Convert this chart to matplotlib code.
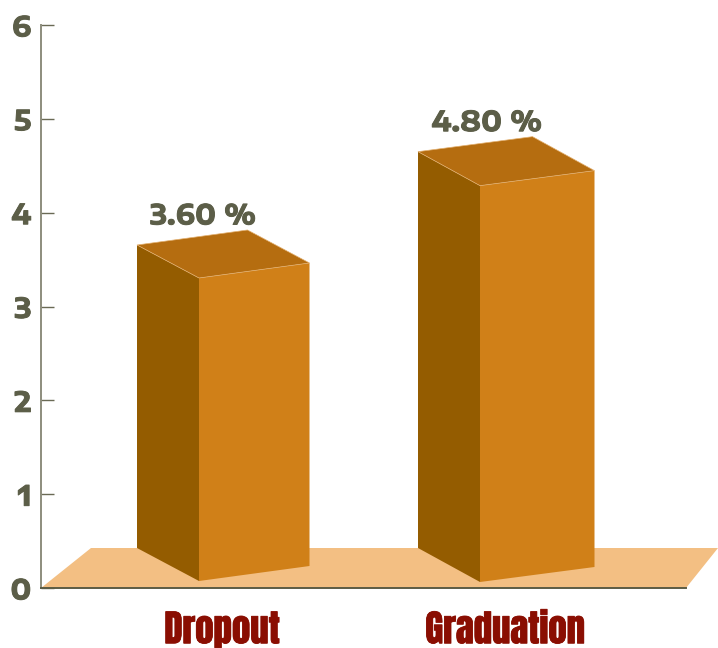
import matplotlib
matplotlib.use("Agg")
import matplotlib.pyplot as plt
import matplotlib.patheffects as pe
from matplotlib.patches import Polygon

categories = ["Dropout", "Graduation"]
values = [3.60, 4.80]
y_ticks = [0, 1, 2, 3, 4, 5, 6]

W, H = 718, 648
# axes box in pixels
LEFT, RIGHT, TOP, BOTTOM = 41, 686, 25, 588
CAT_GAP = 283  # px between the two categories
PX = 1 / CAT_GAP
PY = 6 / (BOTTOM - TOP)

# per bar look: back-left x from centre, front width, height per unit value, base y
shapes = [
    {"x0": -85, "front": 110.5, "k": 0.897, "drop": 33, "lab": 66},
    {"x0": -87, "front": 114.5, "k": 0.880, "drop": 34, "lab": 69},
]
DEPTH_X = 62
SKEW_Y = 15
FLOOR_Y = 40 * PY

SIDE = "#945c00"
FRONT = "#d08018"
ROOF = "#b56d10"
FLOOR = "#f3bf83"
TEXT = "#5c5e48"
LABEL = "#8a0e02"
WIDE = ["Encode Sans Expanded", "DejaVu Sans"]
TALL = ["Anton", "Liberation Sans Narrow", "DejaVu Sans"]

heavy = [pe.withStroke(linewidth=0.7, foreground=TEXT)]

fig = plt.figure(figsize=(W / 100, H / 100), dpi=100)
ax = fig.add_axes([LEFT / W, 1 - BOTTOM / H, (RIGHT - LEFT) / W, (BOTTOM - TOP) / H])
ax.set_xlim((LEFT - 222) * PX, (RIGHT - 222) * PX)
ax.set_ylim(0, 6)

for s in ["top", "right"]:
    ax.spines[s].set_visible(False)
ax.spines["left"].set_color("#8d8d7d")
ax.spines["left"].set_linewidth(1.4)
ax.spines["bottom"].set_color("#5c5c44")
ax.spines["bottom"].set_linewidth(1.4)

ax.set_yticks(y_ticks)
ax.tick_params(axis="y", direction="in", length=9.5, width=1, color="#6a6a55", pad=7)
for t in ax.get_yticklabels():
    t.set_fontfamily(WIDE)
    t.set_fontweight("bold")
    t.set_fontsize(20)
    t.set_color(TEXT)
    t.set_path_effects(heavy)

ax.set_xticks(range(len(categories)))
ax.set_xticklabels(categories)
ax.tick_params(axis="x", length=0, pad=16)
for t in ax.get_xticklabels():
    t.set_fontfamily(TALL)
    t.set_fontsize(26.5)
    t.set_color(LABEL)
    t.set_path_effects([pe.withStroke(linewidth=0.6, foreground=LABEL)])

# floor
x_l, x_r = ax.get_xlim()
floor = Polygon([(x_l, 0), (x_l + 50 * PX, FLOOR_Y), (x_l + (W - LEFT) * PX, FLOOR_Y), (x_r, 0)],
                facecolor=FLOOR, edgecolor="none", clip_on=False, zorder=1)
ax.add_patch(floor)

for i, (val, sh) in enumerate(zip(values, shapes)):
    xa = i + sh["x0"] * PX
    xb = xa + DEPTH_X * PX
    xc = xb + sh["front"] * PX
    xd = xa + sh["front"] * PX
    dy = sh["drop"] * PY
    skew = SKEW_Y * PY
    h = val * sh["k"]
    base = FLOOR_Y
    side = [(xa, base), (xb, base - dy), (xb, base - dy + h), (xa, base + h)]
    front = [(xb, base - dy), (xc, base - dy + skew), (xc, base - dy + skew + h), (xb, base - dy + h)]
    roof = [(xa, base + h), (xb, base - dy + h), (xc, base - dy + skew + h), (xd, base + skew + h)]
    ax.add_patch(Polygon(side, facecolor=SIDE, edgecolor="none", zorder=3))
    ax.add_patch(Polygon(front, facecolor=FRONT, edgecolor="none", zorder=3))
    ax.add_patch(Polygon(roof, facecolor=ROOF, edgecolor="#e3b070", linewidth=0.5, zorder=4))
    lab = ax.text(xa + sh["lab"] * PX, base + h + 29 * PY, f"{val:.2f} %", ha="center", va="center",
                  fontfamily=WIDE, fontsize=20, fontweight="bold", color=TEXT, zorder=5)
    lab.set_path_effects(heavy)

fig.savefig("out.png", dpi=100)
